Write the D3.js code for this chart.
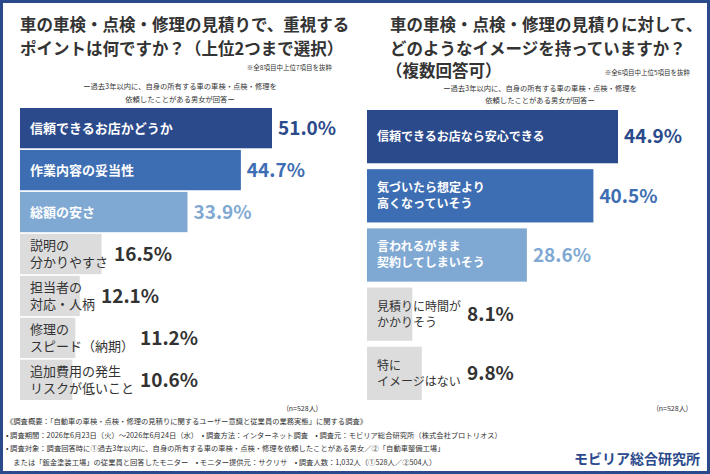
<!DOCTYPE html>
<html><head><meta charset="utf-8">
<script src="https://cdn.jsdelivr.net/npm/d3@7"></script>
<style>body{margin:0;background:#fff}text{font-family:"Noto Sans CJK JP",sans-serif}</style>
</head><body>
<script>
const leftLabels = [["信頼できるお店かどうか"],["作業内容の妥当性"],["総額の安さ"],["説明の","分かりやすさ"],["担当者の","対応・人柄"],["修理の","スピード（納期）"],["追加費用の発生","リスクが低いこと"]];
const leftValues = [51.0, 44.7, 33.9, 16.5, 12.1, 11.2, 10.6];
const rightLabels = [["信頼できるお店なら安心できる"],["気づいたら想定より","高くなっていそう"],["言われるがまま","契約してしまいそう"],["見積りに時間が","かかりそう"],["特に","イメージはない"]];
const rightValues = [44.9, 40.5, 28.6, 8.1, 9.8];
const barColors = ["#2b4a8b", "#3d6db2", "#7fa9d3", "#dcdcdc"];
const valColors = ["#2b4a8b", "#3d6db2", "#7fa9d3", "#333"];

const W = 710, H = 474;
const svg = d3.select("body").append("svg").attr("width", W).attr("height", H);
svg.append("rect").attr("x",1.5).attr("y",1.5).attr("width",W-3).attr("height",H-3)
  .attr("fill","#fff").attr("stroke","#2b4a8b").attr("stroke-width",3);

function txt(x, y, s, size, opts = {}) {
  return svg.append("text").attr("x", x).attr("y", y).text(s)
    .attr("font-size", size).attr("fill", opts.fill || "#333")
    .attr("font-weight", opts.w || "normal").attr("text-anchor", opts.a || "start");
}

txt(20, 31, "車の車検・点検・修理の見積りで、重視する", 16.5, {w:"bold"});
txt(20, 55, "ポイントは何ですか？（上位2つまで選択）", 16.5, {w:"bold"});
txt(332, 70, "※全8項目中上位7項目を抜粋", 6.5, {a:"end"});
txt(180, 89, "ー過去3年以内に、自身の所有する車の車検・点検・修理を", 7.3, {a:"middle"});
txt(180, 102, "依頼したことがある男女が回答ー", 7.3, {a:"middle"});

txt(390, 31, "車の車検・点検・修理の見積りに対して、", 16.5, {w:"bold"});
txt(390, 55, "どのようなイメージを持っていますか？", 16.5, {w:"bold"});
txt(386, 77, "（複数回答可）", 16.5, {w:"bold"});
txt(690, 75, "※全6項目中上位5項目を抜粋", 6.5, {a:"end"});
txt(540, 91, "ー過去3年以内に、自身の所有する車の車検・点検・修理を", 7.3, {a:"middle"});
txt(540, 103, "依頼したことがある男女が回答ー", 7.3, {a:"middle"});

function panel(labels, values, x0, x1, y0, y1, max, pad, labelSize, valSize) {
  const x = d3.scaleLinear().domain([0, max]).range([x0, x1]);
  const y = d3.scaleBand().domain(d3.range(values.length)).range([y0, y1]).paddingInner(pad);
  values.forEach((v, i) => {
    const ci = Math.min(i, 3);
    const g = svg.append("g");
    g.append("rect").attr("x", x(0)).attr("y", y(i)).attr("width", x(v) - x(0))
      .attr("height", y.bandwidth()).attr("fill", barColors[ci]);
    const lines = labels[i];
    const cy = y(i) + y.bandwidth() / 2;
    lines.forEach((l, k) => {
      txt(x(0) + 10, cy + (k - (lines.length - 1) / 2) * (labelSize + 4) + labelSize * 0.36, l, labelSize,
        {fill: ci < 3 ? "#fff" : "#333", w: ci < 3 ? "bold" : "normal"});
    });
    const lw = Math.max(x(v), x(0) + d3.max(lines, l => l.length) * labelSize + 10);
    txt(lw + 6, cy + valSize * 0.36, v.toFixed(1) + "%", valSize, {fill: valColors[ci], w: "bold"});
  });
}
panel(leftLabels, leftValues, 20, 272, 108, 400, 51.0, 0.04, 13, 19);
panel(rightLabels, rightValues, 367, 618, 110, 400, 44.9, 0.1, 12, 19);

txt(318, 411, "(n=528人)", 7, {a:"end"});
txt(688, 411, "(n=528人)", 7, {a:"end"});
const notes = ["《調査概要：「自動車の車検・点検・修理の見積りに関するユーザー意識と従業員の業務実態」に関する調査》",
  "• 調査期間：2026年6月23日（火）～2026年6月24日（水）　• 調査方法：インターネット調査　• 調査元：モビリア総合研究所（株式会社プロトリオス）",
  "• 調査対象：調査回答時に①過去3年以内に、自身の所有する車の車検・点検・修理を依頼したことがある男女／②「自動車整備工場」",
  "　または「鈑金塗装工場」の従業員と回答したモニター　• モニター提供元：サクリサ　• 調査人数：1,032人（①528人／②504人）"];
notes.forEach((n, i) => txt(6, 424 + i * 13.5, n, 7.3));
txt(700, 464, "モビリア総合研究所", 14, {fill:"#2b4a8b", w:"bold", a:"end"});
</script>
</body></html>
